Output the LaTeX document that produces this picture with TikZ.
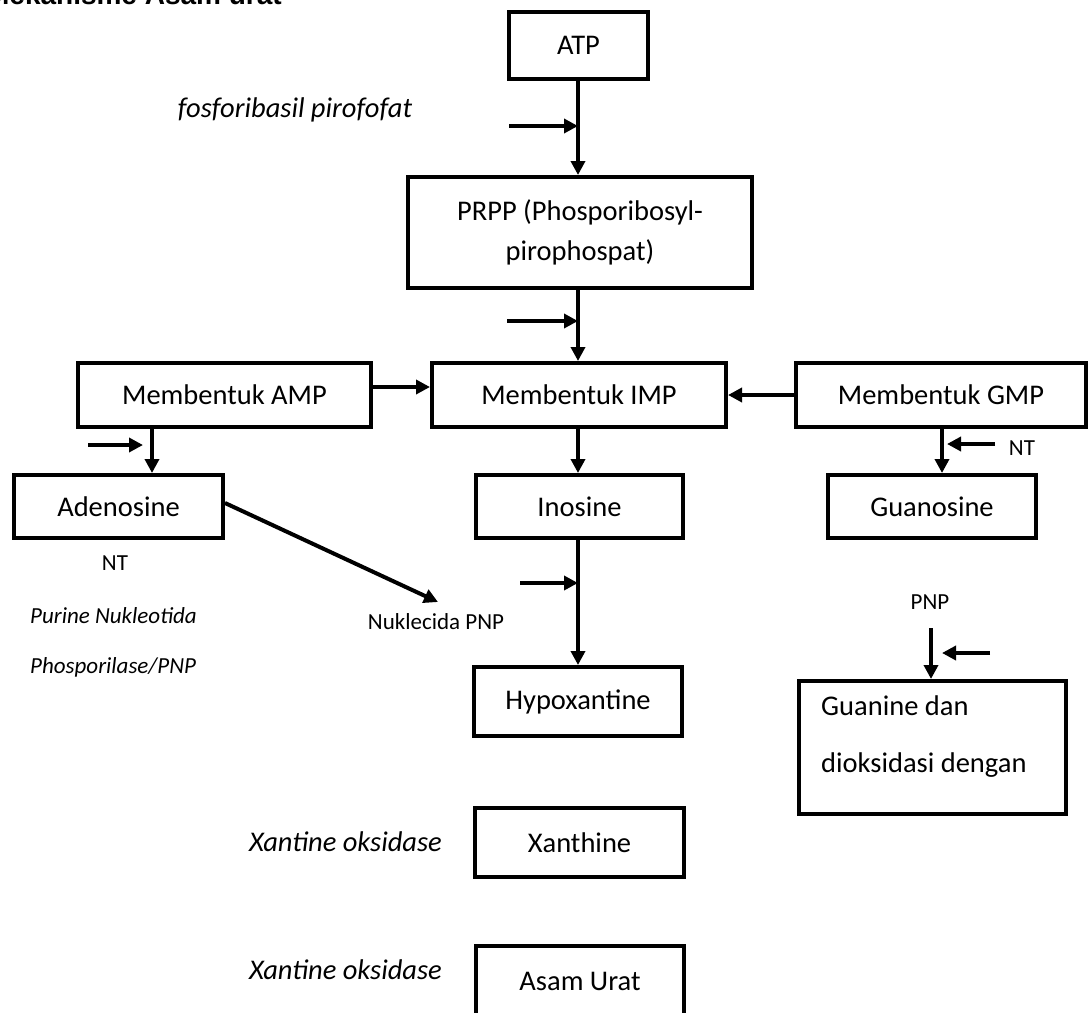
\documentclass[tikz,border=0pt]{standalone}
\usepackage{fontspec}
\setmainfont{Carlito}
\newfontfamily\titlefont{Liberation Sans}
\usetikzlibrary{arrows.meta}
\begin{document}
\begin{tikzpicture}[x=1pt,y=-1pt,
  box/.style={draw, line width=4pt, inner sep=0pt, align=center,
    font=\fontsize{28.5}{40}\selectfont},
  arr/.style={line width=4pt, -{Triangle[length=14pt,width=14pt]}},
  big/.style={inner sep=0pt, font=\fontsize{28.5}{34}\selectfont},
  bigit/.style={inner sep=0pt, font=\fontsize{28.5}{34}\selectfont\itshape},
  small/.style={inner sep=0pt, font=\fontsize{23}{28}\selectfont},
  smallit/.style={inner sep=0pt, font=\fontsize{23}{28}\selectfont\itshape}]
\useasboundingbox (0,0) rectangle (1089,1012);

% title (cut at top edge)
\node[anchor=base east, inner sep=0pt, font=\titlefont\bfseries\fontsize{28}{30}\selectfont] (title) at (282,4) {Mekanisme Asam urat};

% boxes
\node[box, minimum width=139pt, minimum height=67pt] (atp) at (578.5,45.5) {ATP};
\node[box, minimum width=344pt, minimum height=111pt] (prpp) at (580,232.5) {PRPP (Phosporibosyl-\\pirophospat)};
\node[box, minimum width=294pt, minimum height=64pt] (imp) at (579,395) {Membentuk IMP};
\node[box, minimum width=293pt, minimum height=64pt] (amp) at (224.5,395) {Membentuk AMP};
\node[box, minimum width=290pt, minimum height=64pt] (gmp) at (941,395) {Membentuk GMP};
\node[box, minimum width=209pt, minimum height=63pt] (aden) at (118.5,506.5) {Adenosine};
\node[box, minimum width=207pt, minimum height=63pt] (ino) at (579.5,506.5) {Inosine};
\node[box, minimum width=208pt, minimum height=63pt] (guo) at (932,506.5) {Guanosine};
\node[box, minimum width=208pt, minimum height=69pt] (hypo) at (578,701.5) {Hypoxantine};
\node[box, minimum width=209pt, minimum height=69pt] (xan) at (579.5,842.5) {Xanthine};
\node[box, minimum width=208pt, minimum height=70pt] (urat) at (580,981) {Asam Urat};
\node[draw, line width=4pt, minimum width=267pt, minimum height=133pt, inner sep=0pt] (gua) at (932.5,747.5) {};
\node[anchor=west, inner sep=0pt, align=left, font=\fontsize{28.5}{57}\selectfont] (guatext) at (821,736.5) {Guanine dan\\dioksidasi dengan};

% free labels
\node[bigit] (fpp) at (295,110) {fosforibasil pirofofat};
\node[small] (nt1) at (115,563) {NT};
\node[smallit, anchor=west] (pn1) at (30,616) {Purine Nukleotida};
\node[smallit, anchor=west] (pn2) at (30,667) {Phosporilase/PNP};
\node[small] (nukl) at (436,622) {Nuklecida PNP};
\node[small] (nt2) at (1022,448) {NT};
\node[small] (pnp) at (930,602) {PNP};
\node[bigit, anchor=east] (xo1) at (442,842) {Xantine oksidase};
\node[bigit, anchor=east] (xo2) at (442,970) {Xantine oksidase};

% coordinates for free ends
\coordinate (s1) at (509,126);
\coordinate (e1) at (578,126);
\coordinate (s2) at (507,321);
\coordinate (e2) at (578,321);
\coordinate (s3) at (88,445);
\coordinate (e3) at (143,445);
\coordinate (s4) at (995,444);
\coordinate (e4) at (947,444);
\coordinate (s5) at (520,583);
\coordinate (e5) at (578,583);
\coordinate (adtip) at (438,602);
\coordinate (s6) at (931,628);
\coordinate (s7) at (990,653);
\coordinate (e7) at (942,653);

% connectors
\draw[arr] (atp.south -| 578,0) -- (prpp.north -| 578,0);
\draw[arr] (s1) -- (e1);
\draw[arr] (prpp.south -| 578,0) -- (imp.north -| 578,0);
\draw[arr] (s2) -- (e2);
\draw[arr] ([yshift=8pt]amp.east) -- ([yshift=8pt]imp.west);
\draw[arr] (gmp.west) -- (imp.east);
\draw[arr] (amp.south -| 152,0) -- (aden.north -| 152,0);
\draw[arr] (s3) -- (e3);
\draw[arr] (gmp.south -| 942,0) -- (guo.north -| 942,0);
\draw[arr] (s4) -- (e4);
\draw[arr] (imp.south -| 578,0) -- (ino.north -| 578,0);
\draw[arr] (ino.south -| 578,0) -- (hypo.north -| 578,0);
\draw[arr] (s5) -- (e5);
\draw[arr] (aden.east |- 0,503) -- (adtip);
\draw[arr] (s6) -- (gua.north -| 931,0);
\draw[arr] (s7) -- (e7);
\end{tikzpicture}
\end{document}
